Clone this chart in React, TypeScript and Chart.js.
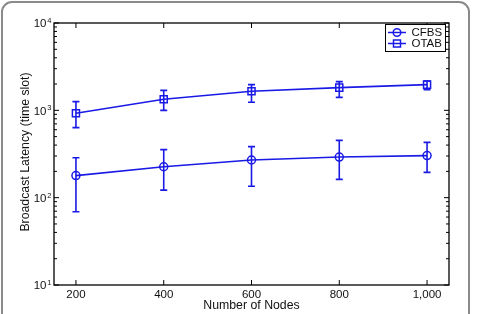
import React, { useEffect, useRef } from 'react';
import { Chart, registerables } from 'chart.js';

Chart.register(...registerables);

const nodes = [200, 400, 600, 800, 1000];
const cfbsMean = [179, 226, 270, 292, 303];
const cfbsLow = [69, 122, 135, 162, 195];
const cfbsHigh = [287, 355, 384, 453, 430];
const otabMean = [925, 1337, 1652, 1820, 1968];
const otabLow = [634, 1000, 1236, 1409, 1727];
const otabHigh = [1258, 1694, 1968, 2133, 2168];
const xTicks = [200, 400, 600, 800, 1000];
const xTickLabels = ['200', '400', '600', '800', '1,000'];
const yTicks = [10, 100, 1000, 10000];
const yExponents = ['1', '2', '3', '4'];
const seriesNames = ['CFBS', 'OTAB'];
const xTitle = 'Number of Nodes';
const yTitle = 'Broadcast Latency (time slot)';

const BLUE = '#1a1ae6';
const FONT = "'Liberation Sans', Arial, sans-serif";

const lows = [cfbsLow, otabLow];
const highs = [cfbsHigh, otabHigh];
const styles = ['circle', 'rect'];
const radii = [4, 5];

const decor = {
  id: 'decor',
  afterDatasetsDraw(chart: any) {
    const ctx = chart.ctx;
    const xs = chart.scales.x;
    const ys = chart.scales.y;
    ctx.save();
    ctx.strokeStyle = BLUE;
    ctx.lineWidth = 1.6;
    for (let s = 0; s < lows.length; s++) {
      for (let j = 0; j < nodes.length; j++) {
        const x = xs.getPixelForValue(nodes[j]);
        const yl = ys.getPixelForValue(lows[s][j]);
        const yh = ys.getPixelForValue(highs[s][j]);
        ctx.beginPath();
        ctx.moveTo(x, yl);
        ctx.lineTo(x, yh);
        ctx.moveTo(x - 3.5, yl);
        ctx.lineTo(x + 3.5, yl);
        ctx.moveTo(x - 3.5, yh);
        ctx.lineTo(x + 3.5, yh);
        ctx.stroke();
      }
    }
    ctx.restore();
  },
  afterDraw(chart: any) {
    const ctx = chart.ctx;
    const xs = chart.scales.x;
    const ys = chart.scales.y;
    const a = chart.chartArea;
    ctx.save();
    // outer rounded frame
    ctx.strokeStyle = '#8a8a8a';
    ctx.lineWidth = 2;
    const fx = 2, fy = 2, fw = 467, fh = 330, r = 10;
    ctx.beginPath();
    ctx.moveTo(fx + r, fy);
    ctx.lineTo(fx + fw - r, fy);
    ctx.arcTo(fx + fw, fy, fx + fw, fy + r, r);
    ctx.lineTo(fx + fw, fy + fh);
    ctx.moveTo(fx, fy + fh);
    ctx.lineTo(fx, fy + r);
    ctx.arcTo(fx, fy, fx + r, fy, r);
    ctx.stroke();

    // axes box
    ctx.strokeStyle = '#000';
    ctx.lineWidth = 1.3;
    ctx.strokeRect(a.left, a.top, a.right - a.left, a.bottom - a.top);

    // x ticks
    ctx.lineWidth = 1;
    ctx.beginPath();
    for (const v of xTicks) {
      const x = xs.getPixelForValue(v);
      ctx.moveTo(x, a.bottom);
      ctx.lineTo(x, a.bottom - 5);
      ctx.moveTo(x, a.top);
      ctx.lineTo(x, a.top + 5);
    }
    // y major + minor ticks
    for (let d = 0; d < yTicks.length; d++) {
      const base = yTicks[d];
      const y = ys.getPixelForValue(base);
      ctx.moveTo(a.left, y);
      ctx.lineTo(a.left + 5, y);
      ctx.moveTo(a.right, y);
      ctx.lineTo(a.right - 5, y);
      if (d < yTicks.length - 1) {
        for (let k = 2; k <= 9; k++) {
          const ym = ys.getPixelForValue(base * k);
          ctx.moveTo(a.left, ym);
          ctx.lineTo(a.left + 3, ym);
          ctx.moveTo(a.right, ym);
          ctx.lineTo(a.right - 3, ym);
        }
      }
    }
    ctx.stroke();

    // tick labels
    ctx.fillStyle = '#111';
    ctx.font = `11.5px ${FONT}`;
    ctx.textAlign = 'center';
    ctx.textBaseline = 'middle';
    xTicks.forEach((v, i) => {
      ctx.fillText(xTickLabels[i], xs.getPixelForValue(v), 294.5);
    });
    yTicks.forEach((v, i) => {
      const y = ys.getPixelForValue(v);
      ctx.font = `11.5px ${FONT}`;
      ctx.textAlign = 'right';
      ctx.textBaseline = 'middle';
      ctx.fillText('10', 46.5, y + 1);
      ctx.font = `7.5px ${FONT}`;
      ctx.textAlign = 'left';
      ctx.textBaseline = 'alphabetic';
      ctx.fillText(yExponents[i], 47.3, y);
    });

    // axis titles
    ctx.font = `12.3px ${FONT}`;
    ctx.textAlign = 'center';
    ctx.textBaseline = 'middle';
    ctx.fillText(xTitle, (a.left + a.right) / 2, 306);
    ctx.save();
    ctx.translate(26, 152);
    ctx.rotate(-Math.PI / 2);
    ctx.fillText(yTitle, 0, 0);
    ctx.restore();

    // legend
    const lx = 385, ly = 24, lw = 61, lh = 28;
    ctx.fillStyle = '#fff';
    ctx.fillRect(lx, ly, lw, lh);
    ctx.strokeStyle = '#000';
    ctx.lineWidth = 1;
    ctx.strokeRect(lx + 0.5, ly + 0.5, lw - 1, lh - 1);
    seriesNames.forEach((name, i) => {
      const cy = 32.5 + i * 11;
      ctx.strokeStyle = BLUE;
      ctx.lineWidth = 1.5;
      ctx.beginPath();
      ctx.moveTo(388, cy);
      ctx.lineTo(406, cy);
      ctx.stroke();
      ctx.beginPath();
      if (styles[i] === 'circle') {
        ctx.arc(397, cy, 3.8, 0, Math.PI * 2);
      } else {
        ctx.rect(393.5, cy - 3.5, 7, 7);
      }
      ctx.stroke();
      ctx.fillStyle = '#111';
      ctx.font = `11.5px ${FONT}`;
      ctx.textAlign = 'left';
      ctx.textBaseline = 'middle';
      ctx.fillText(name, 411.5, cy);
    });
    ctx.restore();
  },
};

export default function App() {
  const ref = useRef<HTMLCanvasElement>(null);
  useEffect(() => {
    if (!ref.current) return;
    const means = [cfbsMean, otabMean];
    const chart = new Chart(ref.current, {
      type: 'line',
      data: {
        datasets: seriesNames.map((name, i) => ({
          label: name,
          data: nodes.map((n, j) => ({ x: n, y: means[i][j] })),
          borderColor: BLUE,
          borderWidth: 1.6,
          backgroundColor: 'rgba(0,0,0,0)',
          pointStyle: styles[i] as any,
          pointRadius: radii[i],
          pointBorderWidth: 1.5,
          pointBorderColor: BLUE,
          pointBackgroundColor: 'rgba(0,0,0,0)',
          tension: 0,
          fill: false,
        })),
      },
      options: {
        animation: false,
        responsive: false,
        events: [],
        layout: { padding: { left: 54, top: 23, right: 35, bottom: 29 } },
        plugins: { legend: { display: false }, tooltip: { enabled: false } },
        scales: {
          x: { type: 'linear', min: 150, max: 1050, display: false },
          y: { type: 'logarithmic', min: 10, max: 10000, display: false },
        },
      },
      plugins: [decor],
    });
    return () => chart.destroy();
  }, []);
  return (
    <div style={{ position: 'fixed', left: 0, top: 0, width: 484, height: 314, background: '#fff' }}>
      <canvas ref={ref} width={484} height={314} style={{ display: 'block' }} />
    </div>
  );
}
